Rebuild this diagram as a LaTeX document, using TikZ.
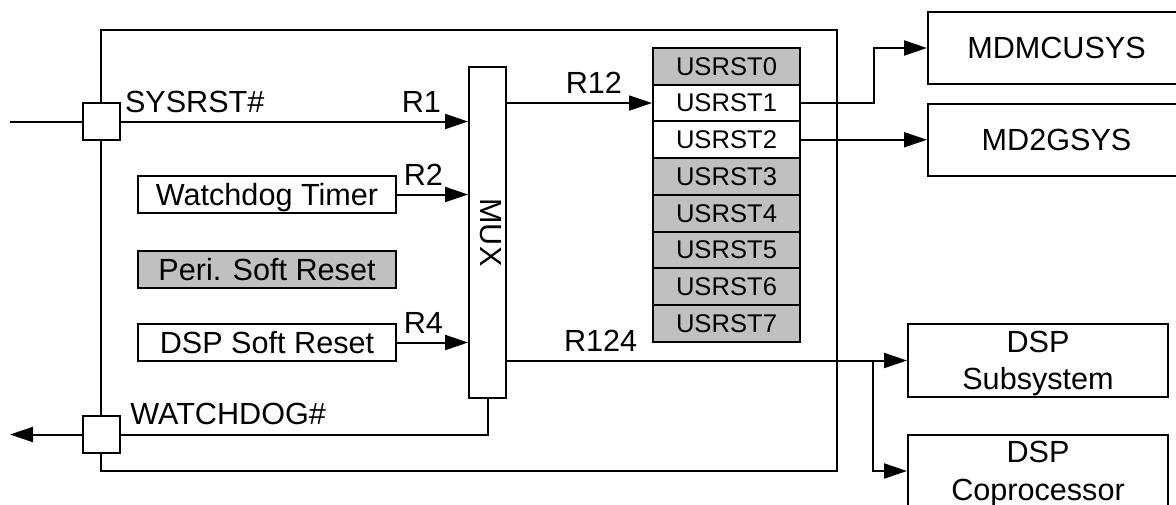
\documentclass[tikz,border=0pt]{standalone}
\usepackage{fontspec}
\setmainfont{Liberation Sans}
\usetikzlibrary{arrows.meta,positioning}
\definecolor{ink}{HTML}{000000}
\definecolor{cellgray}{HTML}{C0C0C0}
\tikzset{
  blk/.style={draw=ink,fill=white,line width=1pt,inner sep=0pt,align=center,
              text depth=0pt,font=\fontsize{15.3}{18.7}\selectfont},
  srcblk/.style={blk,minimum width=129pt,minimum height=18.5pt},
  pinblk/.style={draw=ink,fill=white,line width=1pt,inner sep=0pt,
                 minimum width=18.5pt,minimum height=18.5pt},
  muxblk/.style={draw=ink,fill=white,line width=1pt,inner sep=0pt,
                 minimum width=18.5pt,minimum height=165.5pt},
  regcell/.style={draw=ink,line width=1pt,inner sep=0pt,text depth=0pt,
                  minimum width=73.5pt,minimum height=18.35pt,
                  font=\fontsize{12.8}{14}\selectfont},
  subblk/.style={blk,minimum width=128.5pt,minimum height=36pt},
  dspblk/.style={blk,minimum width=130pt,minimum height=36.2pt},
  frame/.style={draw=ink,line width=1pt},
  lbl/.style={inner sep=0pt,font=\fontsize{15.3}{18}\selectfont},
  wire/.style={draw=ink,line width=1pt},
  sig/.style={wire,-{Triangle[length=11.5pt,width=7.5pt]}}
}
\begin{document}
\begin{tikzpicture}[x=0.5pt,y=-0.5pt]
    \path[use as bounding box] (0,0) rectangle (1176,504);
    \clip (0,0) rectangle (1176,504);
    \draw[frame] (101,30) rectangle (837,471);

    \node[pinblk] (sysrst) at (101.5,121.5) {};
    \node[pinblk] (wdog) at (101.5,434.5) {};
    \coordinate (sysin) at (10,121.5);
    \coordinate (wdogout) at (10,434.5);

    \node[srcblk] (wdt) at (267,194.5) {Watchdog Timer};
    \node[srcblk,fill=cellgray] (peri) at (267,269) {Peri. Soft Reset};
    \node[srcblk] (dspsr) at (267,342.5) {DSP Soft Reset};

    \node[muxblk] (mux) at (487.5,232.5) {};
    \node[lbl,rotate=-90] (muxlbl) at ([xshift=1.75pt]mux.center) {MUX};

    \foreach \i/\f in {0/cellgray,1/white,2/white,3/cellgray,
                       4/cellgray,5/cellgray,6/cellgray,7/cellgray}
      \node[regcell,fill=\f] (u\i) at (726.5,{66.35+36.7*\i}) {USRST\i};

    \node[subblk] (mdmcu) at (1056.5,48) {MDMCUSYS};
    \node[subblk] (md2g) at (1056.5,140) {MD2GSYS};
    \node[dspblk] (dspsub) at (1038,360.5) {DSP\\Subsystem};
    \node[dspblk] (dspcop) at (1038,471) {DSP\\Coprocessor};

    \draw[wire] (sysin) -- (sysrst);
    \draw[sig] (sysrst) -- (sysrst -| mux.west)
      node[lbl,pos=0,anchor=base west,xshift=1.5pt,yshift=4.5pt] (syslbl) {SYSRST\#}
      node[lbl,pos=1,anchor=base east,xshift=-13pt,yshift=4.5pt] (r1) {R1};
    \draw[sig] (wdt) -- (wdt -| mux.west)
      node[lbl,pos=1,anchor=base east,xshift=-12pt,yshift=4.75pt] (r2) {R2};
    \draw[sig] (dspsr) -- (dspsr -| mux.west)
      node[lbl,pos=1,anchor=base east,xshift=-12pt,yshift=4.75pt] (r4) {R4};

    \draw[sig] (mux.east |- u1) -- (u1)
      node[lbl,pos=1,anchor=base east,xshift=-14.5pt,yshift=5pt] (r12) {R12};
    \draw[sig] (u1.east) -- ++(73,0) |- (mdmcu);
    \draw[sig] (u2.east) -- (u2.east -| md2g.west);

    \draw[sig] (mux.east |- dspsub) -- (dspsub)
      node[lbl,pos=0,anchor=base west,xshift=28pt,yshift=4.5pt] (r124) {R124};
    \coordinate (fork) at ([xshift=-17pt]dspsub.west);
    \draw[sig] (fork) |- (dspcop);

    \draw[wire] (mux.south) |- (wdog);
    \node[lbl,anchor=base west] (wdlbl) at ([xshift=4.5pt,yshift=5pt]wdog.east) {WATCHDOG\#};
    \draw[sig] (wdog) -- (wdogout);
  \end{tikzpicture}
\end{document}
